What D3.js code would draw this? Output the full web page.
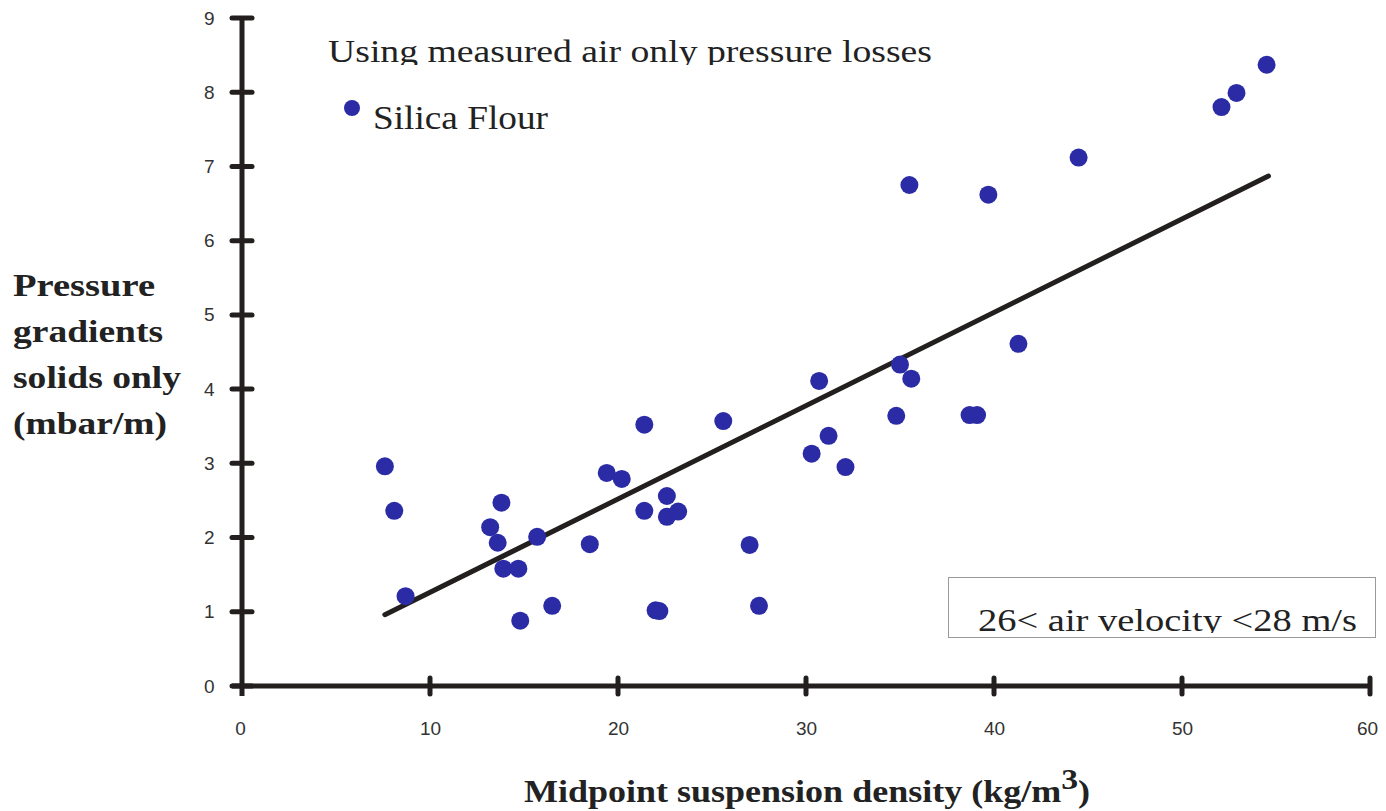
<!DOCTYPE html>
<html>
<head>
<meta charset="utf-8">
<script src="https://cdn.jsdelivr.net/npm/d3@7"></script>
<style>
  body { margin: 0; background: #fff; }
  svg { display: block; }
</style>
</head>
<body>
<svg id="chart" width="1386" height="811"></svg>
<script>
// silica flour, 26 < air velocity < 28 m/s
const density = [7.6, 8.1, 8.7, 13.2, 13.8, 13.6, 13.9, 14.7, 14.8, 15.7, 16.5, 18.5,
  19.4, 20.2, 21.4, 21.4, 22.0, 22.2, 22.6, 22.6, 23.2, 25.6, 27.0, 27.5, 30.3, 30.7,
  31.2, 32.1, 34.8, 35.0, 35.6, 35.5, 38.7, 39.1, 39.7, 41.3, 44.5, 52.1, 52.9, 54.5];
const gradient = [2.96, 2.36, 1.21, 2.14, 2.47, 1.93, 1.58, 1.58, 0.88, 2.01, 1.08, 1.91,
  2.87, 2.79, 3.52, 2.36, 1.02, 1.01, 2.56, 2.28, 2.35, 3.57, 1.90, 1.08, 3.13, 4.11,
  3.37, 2.95, 3.64, 4.33, 4.14, 6.75, 3.65, 3.65, 6.62, 4.61, 7.12, 7.80, 7.99, 8.37];
const trendX = [7.6, 54.6];
const trendY = [0.96, 6.87];
const xTicks = [0, 10, 20, 30, 40, 50, 60];
const yTicks = [0, 1, 2, 3, 4, 5, 6, 7, 8, 9];

const svg = d3.select('#chart');
const x = d3.scaleLinear().domain([0, 60]).range([242, 1370]);
const y = d3.scaleLinear().domain([0, 9]).range([686, 18]);
const axisColor = '#231f1f';
const dotColor = '#2b2ba6';
const serif = "'Liberation Serif', 'Times New Roman', serif";
const sans = "'Liberation Sans', Arial, sans-serif";

// y axis
const yAxis = svg.append('g').attr('transform', `translate(${x(0)},0)`)
  .call(d3.axisLeft(y).tickValues(yTicks).tickSize(0).tickPadding(25));
yAxis.select('.domain').remove();
yAxis.selectAll('text')
  .attr('font-family', sans)
  .attr('font-size', 19).attr('fill', '#333')
  .attr('text-anchor', 'start').attr('x', -38);
svg.append('line')
  .attr('x1', x(0)).attr('x2', x(0)).attr('y1', y(9)).attr('y2', y(0) + 10)
  .attr('stroke', axisColor).attr('stroke-width', 5);
svg.selectAll('.ytick').data(yTicks).join('line').attr('class', 'ytick')
  .attr('x1', x(0) - 10).attr('x2', x(0) + 10)
  .attr('y1', d => y(d)).attr('y2', d => y(d))
  .attr('stroke', axisColor).attr('stroke-width', 5).attr('stroke-linecap', 'round');

// x axis
const xAxis = svg.append('g').attr('transform', `translate(0,${y(0)})`)
  .call(d3.axisBottom(x).tickValues(xTicks).tickSize(0).tickPadding(36));
xAxis.select('.domain').remove();
xAxis.selectAll('text')
  .attr('font-family', sans)
  .attr('font-size', 19).attr('fill', '#333');
xAxis.selectAll('.tick').filter(d => d === 0).select('text').attr('x', -2);
xAxis.selectAll('.tick').filter(d => d === 60).select('text').attr('x', -3);
svg.append('line')
  .attr('x1', x(0) - 10).attr('x2', x(60)).attr('y1', y(0)).attr('y2', y(0))
  .attr('stroke', axisColor).attr('stroke-width', 5);
svg.selectAll('.xtick').data(xTicks.slice(1)).join('line').attr('class', 'xtick')
  .attr('x1', d => x(d)).attr('x2', d => x(d))
  .attr('y1', y(0) - 8).attr('y2', y(0) + 8)
  .attr('stroke', axisColor).attr('stroke-width', 5).attr('stroke-linecap', 'round');

// trend line
svg.append('line')
  .attr('x1', x(trendX[0])).attr('y1', y(trendY[0]))
  .attr('x2', x(trendX[1])).attr('y2', y(trendY[1]))
  .attr('stroke', axisColor).attr('stroke-width', 5).attr('stroke-linecap', 'round');

// points
svg.selectAll('.dot').data(density.map((d, i) => [d, gradient[i]])).join('circle')
  .attr('class', 'dot')
  .attr('cx', d => x(d[0])).attr('cy', d => y(d[1]))
  .attr('r', 9).attr('fill', dotColor);

// title, clipped at the bottom like the scan
svg.append('clipPath').attr('id', 'titleClip')
  .append('rect').attr('x', 300).attr('y', 20).attr('width', 700).attr('height', 45);
svg.append('text')
  .attr('clip-path', 'url(#titleClip)')
  .attr('x', 328).attr('y', 62)
  .attr('font-family', serif)
  .attr('font-size', 31).attr('fill', '#222')
  .attr('textLength', 604).attr('lengthAdjust', 'spacingAndGlyphs')
  .text('Using measured air only pressure losses');

// legend
svg.append('circle').attr('cx', 352).attr('cy', 108).attr('r', 8).attr('fill', dotColor);
svg.append('text')
  .attr('x', 373).attr('y', 129)
  .attr('font-family', serif)
  .attr('font-size', 34).attr('fill', '#222')
  .attr('textLength', 175).attr('lengthAdjust', 'spacingAndGlyphs')
  .text('Silica Flour');

// y axis title
const yTitle = [['Pressure', 142], ['gradients', 150], ['solids only', 168], ['(mbar/m)', 154]];
svg.selectAll('.ytitle').data(yTitle).join('text').attr('class', 'ytitle')
  .attr('x', 13).attr('y', (d, i) => 296 + i * 46)
  .attr('font-family', serif)
  .attr('font-weight', 'bold').attr('font-size', 31).attr('fill', '#222')
  .attr('textLength', d => d[1]).attr('lengthAdjust', 'spacingAndGlyphs')
  .text(d => d[0]);

// x axis title
const xTitle = svg.append('text')
  .attr('x', 524).attr('y', 802)
  .attr('font-family', serif)
  .attr('font-weight', 'bold').attr('font-size', 31).attr('fill', '#222')
  .attr('textLength', 566).attr('lengthAdjust', 'spacingAndGlyphs');
xTitle.append('tspan').text('Midpoint suspension density (kg/m');
xTitle.append('tspan').attr('dy', -13).attr('font-size', 29).text('3');
xTitle.append('tspan').attr('dy', 13).text(')');

// annotation box
svg.append('rect')
  .attr('x', 948.5).attr('y', 577.5).attr('width', 427).attr('height', 60)
  .attr('fill', '#fff').attr('stroke', '#9a9a9a').attr('stroke-width', 1);
svg.append('clipPath').attr('id', 'boxClip')
  .append('rect').attr('x', 949).attr('y', 578).attr('width', 426).attr('height', 55);
svg.append('text')
  .attr('clip-path', 'url(#boxClip)')
  .attr('x', 978).attr('y', 631)
  .attr('font-family', serif)
  .attr('font-size', 31).attr('fill', '#222')
  .attr('textLength', 379).attr('lengthAdjust', 'spacingAndGlyphs')
  .text('26< air velocity <28 m/s');
</script>
</body>
</html>
